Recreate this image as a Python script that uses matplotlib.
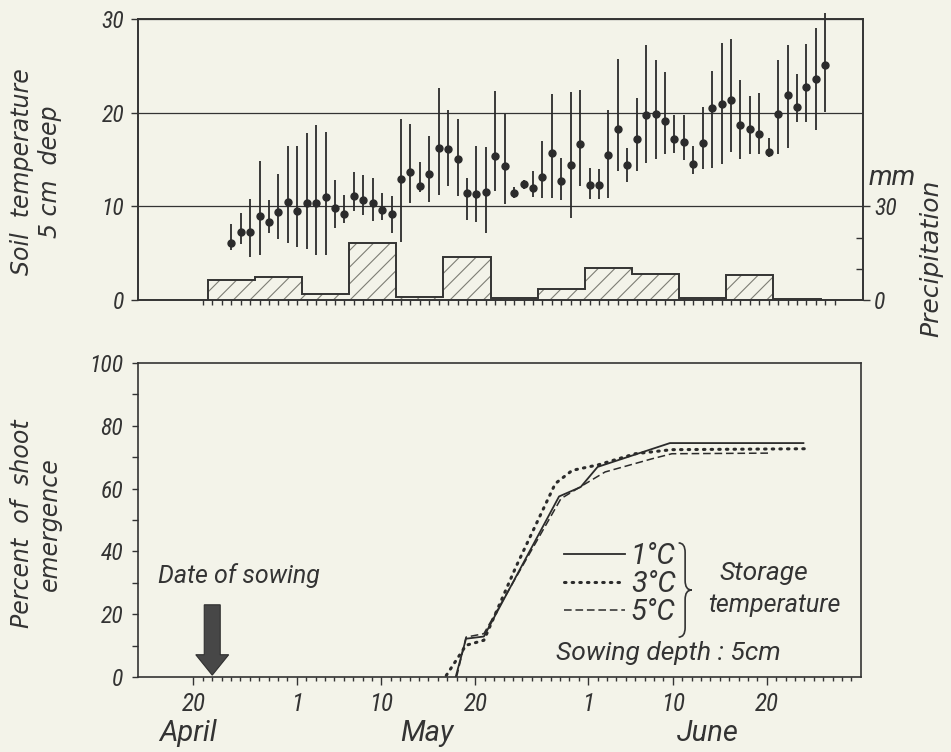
import numpy as np
import matplotlib
matplotlib.use('Agg')
import matplotlib.pyplot as plt
from matplotlib.path import Path
from matplotlib.patches import PathPatch

# x = day of year (20 April = 110, 1 May = 121, 1 June = 152)
# soil temperature at 5 cm, daily mean with daily max / min
temp_days = np.arange(114, 178)
temp_mean = [6.1, 7.3, 7.3, 9.0, 8.3, 9.4, 10.5, 9.5, 10.4, 10.4,
             11.0, 9.8, 9.2, 11.1, 10.7, 10.4, 9.6, 9.2, 12.9, 13.7,
             12.2, 13.4, 16.2, 16.1, 15.1, 11.4, 11.3, 11.5, 15.4, 14.3,
             11.4, 12.4, 12.0, 13.1, 15.7, 12.7, 14.4, 16.6, 12.3, 12.3,
             15.5, 18.2, 14.4, 17.2, 19.7, 19.8, 19.1, 17.2, 16.9, 14.5,
             16.8, 20.5, 20.9, 21.3, 18.7, 18.3, 17.7, 15.8, 19.9, 21.9,
             20.6, 22.7, 23.6, 25.1]
temp_high = [8.1, 9.3, 10.8, 14.8, 10.7, 13.5, 16.4, 16.4, 17.8, 18.7,
             17.9, 12.8, 11.2, 13.7, 13.3, 13.0, 11.4, 11.1, 19.3, 18.8,
             14.7, 17.5, 22.6, 20.3, 19.3, 13.0, 16.4, 16.3, 22.3, 19.8,
             12.1, 12.8, 13.8, 17.0, 22.0, 15.2, 22.2, 22.4, 14.1, 14.0,
             20.3, 25.7, 16.2, 21.6, 27.2, 25.6, 24.3, 19.7, 19.7, 16.4,
             20.6, 24.4, 27.4, 27.9, 23.5, 21.8, 22.1, 17.3, 25.6, 27.2,
             24.1, 27.3, 29.0, 30.6]
temp_low = [5.3, 6.0, 4.6, 4.8, 7.1, 6.5, 6.1, 5.7, 5.4, 4.8,
            4.8, 7.7, 8.2, 9.5, 9.1, 8.4, 8.5, 7.2, 6.2, 10.3,
            11.5, 10.5, 11.2, 12.2, 11.1, 8.5, 8.3, 7.2, 11.6, 10.2,
            10.9, 11.9, 11.0, 10.9, 10.9, 10.7, 8.8, 12.2, 10.8, 10.8,
            10.9, 13.8, 12.6, 13.8, 14.6, 15.0, 15.6, 15.7, 14.9, 13.5,
            14.0, 14.1, 14.5, 15.8, 15.1, 15.6, 15.6, 15.3, 15.6, 16.2,
            19.0, 19.0, 18.1, 20.1]

# 5-day precipitation sums (mm), first day of each pentad
pentad_start = [112, 117, 122, 127, 132, 137, 142, 147, 152, 157, 162, 167, 172]
precip = [6.3, 7.4, 2.0, 18.1, 0.9, 13.8, 0.5, 3.6, 10.2, 8.3, 0.5, 8.1, 0.2]

# shoot emergence (%) per storage temperature
days_1c = [137.9, 139.0, 140.9, 148.9, 151.2, 153.0, 160.7, 174.9]
emer_1c = [0, 12.2, 12.9, 57.5, 60.5, 66.9, 74.5, 74.5]
days_3c = [136.9, 139.0, 140.9, 144.3, 148.5, 150.3, 153.1, 157.0, 160.9, 175.4]
emer_3c = [0.5, 10.1, 11.7, 35.0, 61.6, 65.8, 67.6, 71.1, 72.4, 72.7]
days_5c = [138.0, 139.0, 140.9, 149.1, 151.4, 153.8, 158.8, 160.9, 171.3]
emer_5c = [0, 12.7, 13.8, 56.8, 61.0, 65.3, 69.5, 71.1, 71.3]

sowing_day = 112

day_ticks = [110, 121, 130, 140, 152, 161, 171]
day_labels = ['20', '1', '10', '20', '1', '10', '20']
months = ['April', 'May', 'June']
month_pos = [109.4, 134.8, 164.7]

BG = '#f3f3e9'
INK = '#333333'
NARROW = ['Roboto Condensed', 'Roboto', 'DejaVu Sans']   # numbers
PLAIN = ['Roboto', 'DejaVu Sans']                        # words
WIDE = ['DejaVu Sans']                                   # axis titles

plt.rcParams['font.family'] = NARROW
plt.rcParams['font.style'] = 'italic'
plt.rcParams['text.color'] = INK
plt.rcParams['axes.edgecolor'] = INK
plt.rcParams['axes.facecolor'] = BG
plt.rcParams['xtick.color'] = INK
plt.rcParams['ytick.color'] = INK
plt.rcParams['hatch.linewidth'] = 0.8

fig = plt.figure(figsize=(9.51, 7.52), dpi=100, facecolor=BG)
ax_t = fig.add_axes([0.1451, 0.6011, 0.7624, 0.3737])
ax_b = fig.add_axes([0.1451, 0.0997, 0.7600, 0.4176])
xlim = (104.1, 181.0)

# ---- top panel: soil temperature + precipitation
ax_p = ax_t.twinx()
edges = list(np.array(pentad_start) - 0.5) + [pentad_start[-1] + 4.5]
centers = np.array(pentad_start) + 2
ax_p.bar(centers, precip, width=5, fill=False, hatch='//', edgecolor='#7d7d74',
         linewidth=0)
ax_p.stairs(precip, edges, baseline=0, color=INK, linewidth=1.4)
ax_p.set_ylim(0, 90)
ax_p.set_yticks([0, 30])
ax_p.set_yticklabels(['0', '30'])
ax_p.set_yticks([10, 20], minor=True)
ax_p.tick_params(axis='y', which='major', direction='out', length=5, width=1,
                 pad=3, labelsize=17)
ax_p.tick_params(axis='y', which='minor', direction='in', length=5, width=1)

temp_mean = np.array(temp_mean)
yerr = [temp_mean - np.array(temp_low), np.array(temp_high) - temp_mean]
ax_t.errorbar(temp_days, temp_mean, yerr=yerr, fmt='o', ms=5, color='#2b2b2b',
              ecolor='#2b2b2b', elinewidth=1.3, capsize=0, clip_on=False)
ax_t.set_zorder(ax_p.get_zorder() + 1)
ax_t.patch.set_visible(False)
ax_t.set_xlim(*xlim)
ax_t.set_ylim(0, 30)
ax_t.set_yticks([0, 10, 20, 30])
ax_t.set_xticks(range(111, 179))
ax_t.tick_params(axis='x', direction='out', length=3.5, width=1, labelbottom=False)
ax_t.tick_params(axis='y', direction='out', length=5, width=1, pad=5, labelsize=17)
ax_t.grid(axis='y', color=INK, linewidth=0.9)
for a in (ax_t, ax_p):
    for s in a.spines.values():
        s.set_linewidth(1.2)

ax_t.text(1.007, 0.434, 'mm', transform=ax_t.transAxes, ha='left', va='center',
          fontsize=20, family=PLAIN)

# ---- bottom panel: shoot emergence
ax_b.plot(days_1c, emer_1c, color='#2b2b2b', lw=1.3, label='1°C')
ax_b.plot(days_3c, emer_3c, color='#2b2b2b', lw=2.2, linestyle=(0, (0.5, 2.0)),
          dash_capstyle='round', label='3°C')
ax_b.plot(days_5c, emer_5c, color='#2b2b2b', lw=1.1, linestyle=(0, (5, 2.5)),
          label='5°C')
ax_b.set_xlim(*xlim)
ax_b.set_ylim(0, 100)
ax_b.set_yticks(range(0, 101, 20))
ax_b.set_yticks(range(10, 100, 20), minor=True)
ax_b.tick_params(axis='y', which='both', direction='out', length=4.5, width=1,
                 pad=6, labelsize=17)
ax_b.set_xticks(day_ticks)
ax_b.set_xticklabels(day_labels)
ax_b.set_xticks(range(110, 181), minor=True)
ax_b.tick_params(axis='x', which='major', direction='out', length=6, width=1,
                 pad=5, labelsize=18)
ax_b.tick_params(axis='x', which='minor', direction='out', length=3, width=1)
for s in ax_b.spines.values():
    s.set_linewidth(1.2)

for m, d in zip(months, month_pos):
    ax_b.text(d, -0.178, m, transform=ax_b.get_xaxis_transform(), ha='center',
              va='center', fontsize=21, family=PLAIN)

ax_b.arrow(sowing_day, 23, 0, -22.4, width=1.7, head_width=3.5, head_length=6.5,
           length_includes_head=True, fc='#474747', ec='#2f2f2f', lw=0.8)
ax_b.text(0.028, 0.322, 'Date of sowing', transform=ax_b.transAxes, ha='left',
          va='center', fontsize=18, family=PLAIN)

ax_b.legend(loc='center left', bbox_to_anchor=(0.589, 0.296), frameon=False,
            prop={'family': PLAIN, 'style': 'italic', 'size': 21},
            handlelength=2.1, handletextpad=0.2, labelspacing=0.0,
            borderpad=0, borderaxespad=0)

# brace joining the three storage temperatures
x0, xm, x1 = 0.748, 0.757, 0.766
yt, yc, yb = 0.427, 0.277, 0.127
brace = Path([(x0, yt), (xm, yt), (xm, yt - 0.03), (xm, yc + 0.03),
              (xm, yc), (x1, yc), (xm, yc), (xm, yc - 0.03),
              (xm, yb + 0.03), (xm, yb), (x0, yb)],
             [Path.MOVETO, Path.CURVE3, Path.CURVE3, Path.LINETO,
              Path.CURVE3, Path.CURVE3, Path.CURVE3, Path.CURVE3,
              Path.LINETO, Path.CURVE3, Path.CURVE3])
ax_b.add_patch(PathPatch(brace, transform=ax_b.transAxes, fill=False,
                         edgecolor=INK, lw=1.2, clip_on=False))
ax_b.text(0.866, 0.331, 'Storage', transform=ax_b.transAxes, ha='center',
          va='center', fontsize=19, family=PLAIN)
ax_b.text(0.880, 0.229, 'temperature', transform=ax_b.transAxes, ha='center',
          va='center', fontsize=18, family=PLAIN)
ax_b.text(0.734, 0.076, 'Sowing depth : 5cm', transform=ax_b.transAxes,
          ha='center', va='center', fontsize=19, family=PLAIN)

# axis titles
fig.text(36 / 951, 1 - 172 / 752, 'Soil  temperature\n5 cm  deep', rotation=90,
         ha='center', va='center', fontsize=17, family=WIDE, style='oblique',
         linespacing=1.2)
fig.text(36 / 951, 1 - 524 / 752, 'Percent  of  shoot\nemergence', rotation=90,
         ha='center', va='center', fontsize=17, family=WIDE, style='oblique',
         linespacing=1.2)
fig.text(931 / 951, 1 - 258 / 752, 'Precipitation', rotation=90, ha='center',
         va='center', fontsize=18, family=WIDE, style='oblique')

fig.savefig('out.png', dpi=100, facecolor=BG)
